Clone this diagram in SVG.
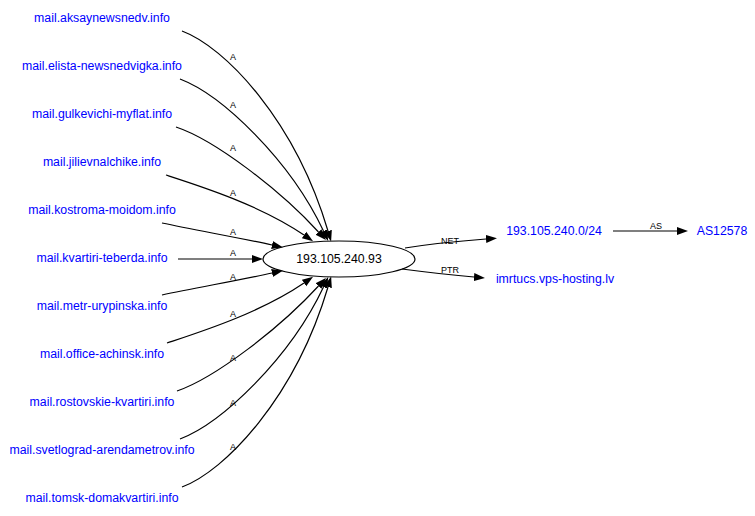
<svg xmlns="http://www.w3.org/2000/svg" width="755" height="516" viewBox="0 0 755 516">
<defs>
<marker id="ah" markerWidth="11" markerHeight="10" refX="0" refY="5" orient="auto" markerUnits="userSpaceOnUse">
<polygon points="0,1 11,5 0,9" fill="#000"/>
</marker>
<style>
.n{font-family:"Liberation Sans",Arial,sans-serif;font-size:12.3px;fill:#0000ff;text-anchor:middle}
.c{font-family:"Liberation Sans",Arial,sans-serif;font-size:12.3px;fill:#000;text-anchor:middle}
.l{font-family:"Liberation Sans",Arial,sans-serif;font-size:9px;fill:#000;text-anchor:middle}
.e{fill:none;stroke:#000;stroke-width:1.2;marker-end:url(#ah)}
</style>
</defs>
<rect width="755" height="516" fill="#fff"/>
<g id="edges">
<path class="e" d="M182,31 C225,47 295,120 328,231"/>
<text class="l" x="233" y="60">A</text>
<path class="e" d="M180,79 C222,95 290,160 323.5,231"/>
<text class="l" x="233" y="108">A</text>
<path class="e" d="M176,127 C215,140 280,190 318.5,232"/>
<text class="l" x="233" y="151">A</text>
<path class="e" d="M166,175 C200,186 260,205 304,235"/>
<text class="l" x="233" y="196">A</text>
<path class="e" d="M162,223 C195,230 240,238 272,245"/>
<text class="l" x="233" y="235">A</text>
<path class="e" d="M178,259 L252,259"/>
<text class="l" x="233" y="256">A</text>
<path class="e" d="M162,295 C195,288 240,280 272,273"/>
<text class="l" x="233" y="280">A</text>
<path class="e" d="M167,343 C200,332 260,313 304,283"/>
<text class="l" x="233" y="317">A</text>
<path class="e" d="M177,391 C215,378 280,328 318.5,286"/>
<text class="l" x="233" y="361">A</text>
<path class="e" d="M180,439 C222,423 290,358 323.5,287"/>
<text class="l" x="233" y="406">A</text>
<path class="e" d="M182,487 C225,471 295,398 328,287"/>
<text class="l" x="233" y="450">A</text>
<path class="e" d="M405,248 C430,244 460,241 486,239"/>
<text class="l" x="450" y="244">NET</text>
<path class="e" d="M402,269 C425,272 450,275 474,277"/>
<text class="l" x="450" y="273">PTR</text>
<path class="e" d="M613,231 L677,231"/>
<text class="l" x="656" y="229">AS</text>
</g>
<g id="center"><ellipse cx="339" cy="259" rx="76" ry="18" fill="none" stroke="#000" stroke-width="1.2"/><text class="c" x="339" y="263">193.105.240.93</text></g>
<g id="n1"><text class="n" x="102" y="22">mail.aksaynewsnedv.info</text></g>
<g id="n2"><text class="n" x="102" y="70">mail.elista-newsnedvigka.info</text></g>
<g id="n3"><text class="n" x="102" y="118">mail.gulkevichi-myflat.info</text></g>
<g id="n4"><text class="n" x="102" y="166">mail.jilievnalchike.info</text></g>
<g id="n5"><text class="n" x="102" y="214">mail.kostroma-moidom.info</text></g>
<g id="n6"><text class="n" x="102" y="262">mail.kvartiri-teberda.info</text></g>
<g id="n7"><text class="n" x="102" y="310">mail.metr-urypinska.info</text></g>
<g id="n8"><text class="n" x="102" y="358">mail.office-achinsk.info</text></g>
<g id="n9"><text class="n" x="102" y="406">mail.rostovskie-kvartiri.info</text></g>
<g id="n10"><text class="n" x="102" y="454">mail.svetlograd-arendametrov.info</text></g>
<g id="n11"><text class="n" x="102" y="502">mail.tomsk-domakvartiri.info</text></g>
<g id="net"><text class="n" x="554" y="235">193.105.240.0/24</text></g>
<g id="as"><text class="n" x="722" y="235">AS12578</text></g>
<g id="ptr"><text class="n" x="555" y="283">imrtucs.vps-hosting.lv</text></g>
</svg>
